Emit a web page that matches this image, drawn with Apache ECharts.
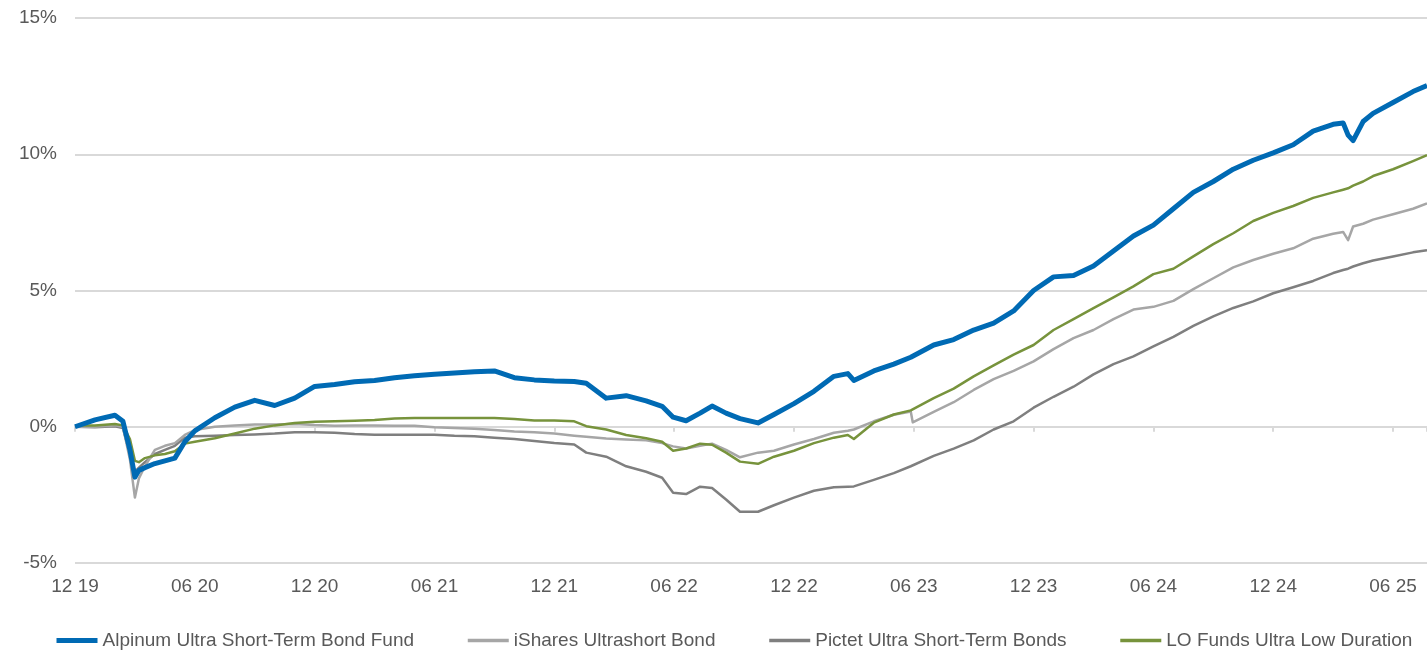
<!DOCTYPE html>
<html>
<head>
<meta charset="utf-8">
<title>Ultra short-term bond funds</title>
<script src="https://cdn.jsdelivr.net/npm/echarts@6/dist/echarts.min.js"></script>
<style>
    html, body { margin: 0; padding: 0; background: #ffffff; }
    #chart { width: 1427px; height: 653px; }
</style>
</head>
<body>
<div id="chart"></div>
<script>
// months since the "12 19" tick
const months = [0, 1, 2, 2.4, 2.75, 3, 3.2, 3.5, 4, 4.5, 5, 5.5, 6,
    7, 8, 9, 10, 11, 12, 13, 14, 15, 16, 17, 18, 19, 20, 21, 22, 23, 24, 25,
    25.6, 26.6, 27.6, 28.6, 29.4, 29.95, 30.6, 31.3, 31.9, 32.6, 33.3, 34.2,
    35, 36, 37, 38, 38.7, 39, 40, 41, 41.85, 41.95,
    43, 44, 45, 46, 47, 48, 49, 50, 51, 52, 53, 54, 55, 56, 57, 58, 59, 60, 61, 62, 63,
    63.5, 63.75, 64, 64.5, 65, 66, 67, 67.7];

const tickLabels = ['12 19', '06 20', '12 20', '06 21', '12 21', '06 22',
    '12 22', '06 23', '12 23', '06 24', '12 24', '06 25'];

const seriesNames = ['Alpinum Ultra Short-Term Bond Fund', 'iShares Ultrashort Bond',
    'Pictet Ultra Short-Term Bonds', 'LO Funds Ultra Low Duration'];

const alpinum = [0, 0.25, 0.42, 0.2, -0.85, -1.85, -1.6, -1.5, -1.35, -1.25, -1.15, -0.55, -0.15,
    0.33, 0.72, 0.97, 0.78, 1.05, 1.48, 1.55, 1.65, 1.7, 1.8, 1.87, 1.93, 1.97, 2.02, 2.05, 1.8, 1.72, 1.68, 1.66,
    1.6, 1.05, 1.14, 0.95, 0.75, 0.35, 0.22, 0.5, 0.76, 0.5, 0.3, 0.14,
    0.45, 0.85, 1.3, 1.85, 1.95, 1.7, 2.05, 2.3, 2.55, 2.58,
    3.0, 3.2, 3.55, 3.8, 4.25, 5.0, 5.5, 5.55, 5.9, 6.45, 7.0, 7.4, 8.0, 8.6, 9.0, 9.45, 9.78, 10.05, 10.35, 10.85, 11.1,
    11.15, 10.7, 10.5, 11.2, 11.5, 11.9, 12.3, 12.52];

const ishares = [0, 0, 0.05, 0, -1.2, -2.6, -1.9, -1.45, -0.85, -0.7, -0.6, -0.3, -0.12,
    0, 0.05, 0.08, 0.08, 0.1, 0.06, 0.04, 0.05, 0.05, 0.04, 0.04, -0.02, -0.05, -0.07, -0.12, -0.17, -0.2, -0.25, -0.33,
    -0.37, -0.43, -0.47, -0.5, -0.6, -0.72, -0.8, -0.7, -0.62, -0.85, -1.12, -0.95,
    -0.88, -0.65, -0.45, -0.22, -0.15, -0.1, 0.2, 0.44, 0.56, 0.16,
    0.55, 0.9, 1.35, 1.75, 2.05, 2.4, 2.85, 3.25, 3.55, 3.95, 4.3, 4.4, 4.62, 5.05, 5.45, 5.85, 6.12, 6.35, 6.55, 6.9, 7.08,
    7.15, 6.85, 7.35, 7.45, 7.6, 7.8, 8.0, 8.2];

const pictet = [0, -0.02, 0.02, -0.05, -1.0, -1.65, -1.5, -1.3, -1.0, -0.85, -0.7, -0.4, -0.35,
    -0.33, -0.3, -0.28, -0.25, -0.2, -0.2, -0.22, -0.27, -0.29, -0.29, -0.29, -0.29, -0.33, -0.35, -0.4, -0.45, -0.52, -0.6, -0.65,
    -0.95, -1.1, -1.45, -1.65, -1.87, -2.42, -2.47, -2.2, -2.25, -2.67, -3.12, -3.12,
    -2.88, -2.6, -2.35, -2.22, -2.2, -2.19, -1.95, -1.7, -1.45, -1.42,
    -1.07, -0.8, -0.5, -0.1, 0.2, 0.7, 1.1, 1.47, 1.92, 2.3, 2.58, 2.95, 3.3, 3.7, 4.05, 4.36, 4.6, 4.9, 5.12, 5.35, 5.64,
    5.75, 5.8, 5.88, 6.0, 6.1, 6.25, 6.4, 6.48];

const loFunds = [0.05, 0.05, 0.1, 0.05, -0.45, -1.25, -1.3, -1.15, -1.05, -1.0, -0.9, -0.62, -0.55,
    -0.42, -0.25, -0.07, 0.05, 0.14, 0.18, 0.2, 0.22, 0.25, 0.3, 0.32, 0.32, 0.32, 0.32, 0.32, 0.28, 0.23, 0.23, 0.2,
    0.02, -0.1, -0.3, -0.42, -0.55, -0.88, -0.8, -0.62, -0.66, -0.95, -1.28, -1.36,
    -1.1, -0.88, -0.6, -0.4, -0.3, -0.45, 0.15, 0.45, 0.6, 0.62,
    1.05, 1.4, 1.85, 2.25, 2.65, 3.0, 3.55, 3.95, 4.35, 4.75, 5.15, 5.6, 5.8, 6.25, 6.7, 7.1, 7.55, 7.85, 8.1, 8.4, 8.6,
    8.7, 8.75, 8.85, 9.0, 9.2, 9.45, 9.75, 9.97];

const FONT = 'Liberation Sans, Arial, sans-serif';
const TEXT_COLOR = '#595959';
const GRID_COLOR = '#d9d9d9';

const styles = [
    { color: '#006ab4', width: 5, legendWidth: 5, z: 5 },
    { color: '#a6a6a6', width: 2.5, legendWidth: 3.5, z: 3 },
    { color: '#7f7f7f', width: 2.5, legendWidth: 3.5, z: 2 },
    { color: '#77933c', width: 2.5, legendWidth: 3.5, z: 4 }
];

function pairs(values){
    return values.map((v, i) => [months[i], v]);
}

function createXAxis(){
    return [{
        // labels along the bottom
        type: 'value',
        min: 0,
        max: 67.7,
        interval: 6,
        position: 'bottom',
        axisLine: { show: false, onZero: false },
        axisTick: { show: false },
        splitLine: { show: false },
        axisLabel: {
            color: TEXT_COLOR,
            fontFamily: FONT,
            fontSize: 19,
            margin: 14,
            showMaxLabel: false,
            formatter: function(v){
                const idx = Math.round(v / 6);
                if (Math.abs(v - idx * 6) > 0.01) return '';
                return tickLabels[idx] || '';
            }
        }
    }, {
        // the 0% baseline with its small tick marks
        type: 'value',
        min: 0,
        max: 67.7,
        interval: 6,
        position: 'top',
        axisLine: { show: true, onZero: true, lineStyle: { color: GRID_COLOR, width: 2 } },
        axisTick: { show: true, inside: true, length: 5, lineStyle: { color: GRID_COLOR, width: 2 } },
        axisLabel: { show: false },
        splitLine: { show: false }
    }];
}

function createYAxis(){
    return [{
        type: 'value',
        min: -5,
        max: 15,
        interval: 5,
        axisLine: { show: false },
        axisTick: { show: false },
        splitLine: { lineStyle: { color: GRID_COLOR, width: 2 } },
        axisLabel: {
            color: TEXT_COLOR,
            fontFamily: FONT,
            fontSize: 19,
            margin: 18,
            formatter: '{value}%'
        }
    }];
}

function createLegend(){
    return {
        data: seriesNames.map((name, i) => ({
            name: name,
            lineStyle: { width: styles[i].legendWidth, color: styles[i].color }
        })),
        left: 54,
        top: 631,
        padding: 0,
        itemGap: 52,
        itemWidth: 41,
        itemHeight: 18,
        itemStyle: { opacity: 0, borderWidth: 0 },
        textStyle: { color: TEXT_COLOR, fontFamily: FONT, fontSize: 19 }
    };
}

function createSeries(){
    const values = [alpinum, ishares, pictet, loFunds];
    return values.map((data, i) => ({
        name: seriesNames[i],
        type: 'line',
        data: pairs(data),
        showSymbol: false,
        symbol: 'none',
        z: styles[i].z,
        color: styles[i].color,
        lineStyle: { color: styles[i].color, width: styles[i].width, join: 'round' }
    }));
}

const chart = echarts.init(document.getElementById('chart'));
chart.setOption({
    animation: false,
    backgroundColor: '#ffffff',
    grid: { left: 75, right: 0, top: 18, bottom: 90, containLabel: false },
    legend: createLegend(),
    xAxis: createXAxis(),
    yAxis: createYAxis(),
    series: createSeries()
});
</script>
</body>
</html>
